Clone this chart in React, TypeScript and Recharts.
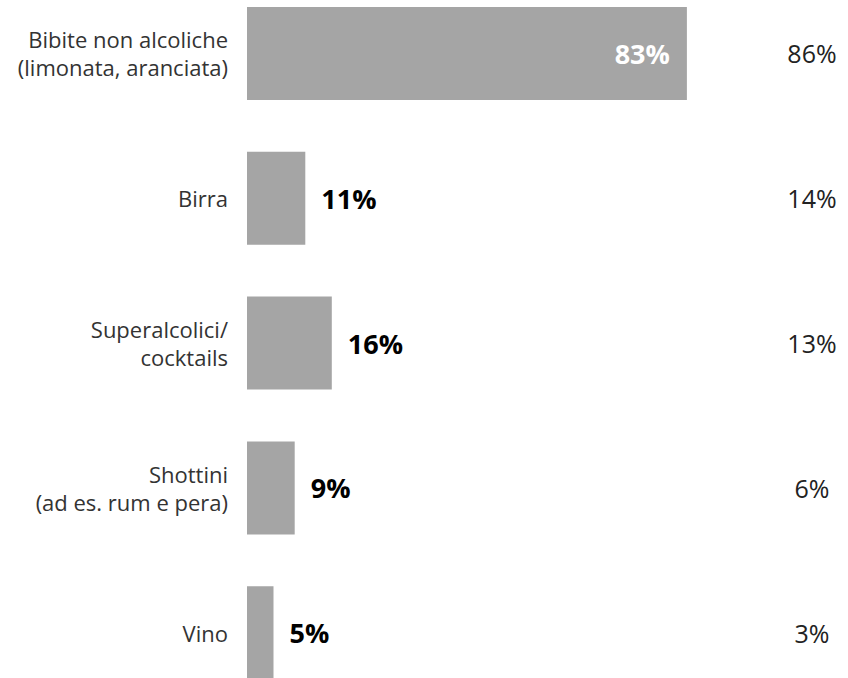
import React from 'react';
import { BarChart, Bar, XAxis, YAxis, LabelList } from 'recharts';

const categories = [
    ['Bibite non alcoliche', '(limonata, aranciata)'],
    ['Birra'],
    ['Superalcolici/', 'cocktails'],
    ['Shottini', '(ad es. rum e pera)'],
    ['Vino'],
];
const currentValues = [83, 11, 16, 9, 5];
const previousValues = [86, 14, 13, 6, 3];

const FONT = '"Open Sans", Calibri, sans-serif';
const BAR_COLOR = '#a5a5a5';

const data = categories.map((lines, i) => ({
    name: lines.join(' '),
    lines,
    value: currentValues[i],
    prev: previousValues[i],
}));

const CategoryTick = ({ x, y, payload, index }: any) => {
    const lines = data[index]?.lines ?? [payload.value];
    const lineHeight = 28;
    const startY = y - ((lines.length - 1) * lineHeight) / 2;
    return (
        <text x={x} y={startY} textAnchor="end" fill="#333" fontSize={22} fontFamily={FONT} dominantBaseline="central">
            {lines.map((l: string, i: number) => (
                <tspan key={i} x={x} y={startY + i * lineHeight}>{l}</tspan>
            ))}
        </text>
    );
};

const PrevTick = ({ y, index }: any) => (
    <text x={812} y={y} textAnchor="middle" fill="#222" fontSize={25} fontFamily={FONT} dominantBaseline="central">
        {data[index]?.prev}%
    </text>
);

const ValueLabel = ({ x, y, width, height, value }: any) => {
    const inside = value > 50;
    return (
        <text
            x={inside ? x + width - 17 : x + width + 16}
            y={y + height / 2}
            textAnchor={inside ? 'end' : 'start'}
            fill={inside ? '#ffffff' : '#000000'}
            fontSize={27}
            fontWeight="bold"
            fontFamily={FONT}
            dominantBaseline="central"
        >
            {value}%
        </text>
    );
};

export default function App() {
    return (
        <div style={{ position: 'absolute', left: 0, top: 0, width: 848, height: 678, overflow: 'hidden', background: '#fff' }}>
            <div style={{ position: 'absolute', left: 0, top: -19 }}>
                <BarChart
                    width={848}
                    height={724}
                    data={data}
                    layout="vertical"
                    margin={{ top: 0, right: 0, bottom: 0, left: 0 }}
                    barSize={93}
                >
                    <XAxis type="number" domain={[0, 100]} hide />
                    <YAxis
                        type="category"
                        dataKey="name"
                        width={247}
                        axisLine={false}
                        tickLine={false}
                        tick={<CategoryTick />}
                        tickMargin={13}
                    />
                    <YAxis
                        yAxisId="right"
                        orientation="right"
                        type="category"
                        dataKey="name"
                        width={71}
                        axisLine={false}
                        tickLine={false}
                        tick={<PrevTick />}
                    />
                    <Bar dataKey="value" fill={BAR_COLOR} isAnimationActive={false}>
                        <LabelList dataKey="value" content={<ValueLabel />} />
                    </Bar>
                </BarChart>
            </div>
        </div>
    );
}
